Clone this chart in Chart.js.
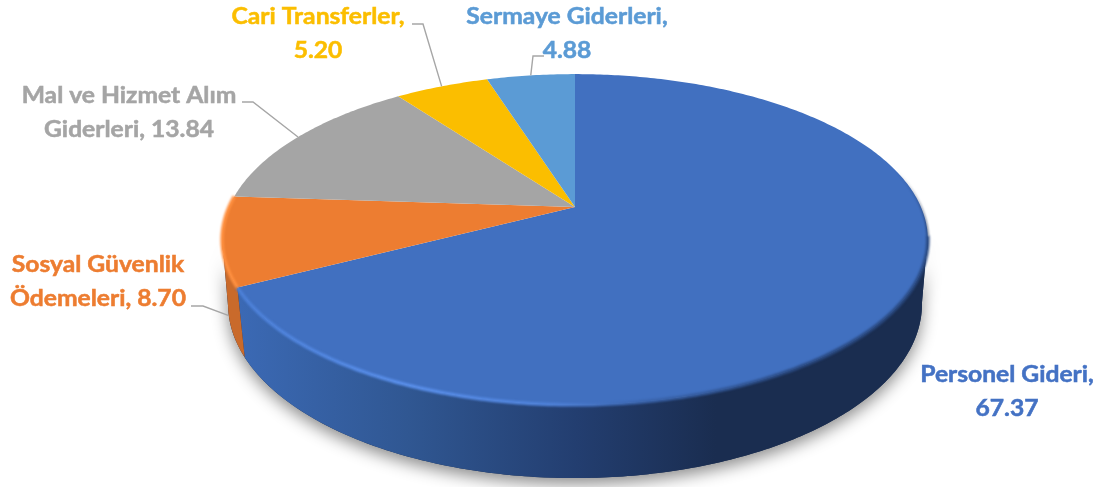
<!DOCTYPE html>
<html>
<head>
<meta charset="utf-8">
<style>
  html, body { margin: 0; padding: 0; background: #fff; }
  canvas { display: block; }
</style>
<script src="https://cdn.jsdelivr.net/npm/chart.js@4"></script>
</head>
<body>
<canvas id="pie" width="1102" height="487"></canvas>
<script>
const categories = ['Personel Gideri', 'Sosyal Güvenlik Ödemeleri', 'Mal ve Hizmet Alım Giderleri', 'Cari Transferler', 'Sermaye Giderleri'];
const values = [67.37, 8.70, 13.84, 5.20, 4.88];
const colors = ['#4170C0', '#ED7D31', '#A5A5A5', '#FBBE00', '#5B9BD5'];

// words on the first line of each label, and where the label sits
const firstLineWords = [2, 2, 4, 2, 2];
const labelCenterX = [1007, 98, 129, 318, 567];
const labelBaseY = [382, 272, 103, 24, 24];
const lineGap = 34;
// the reference text is stretched sideways
const textStretch = 1.12;
// leader start and elbow, the last point comes from the slice itself
const leaders = [null, [[191, 306], [203, 306]], [[242, 102], [253, 102]], [[412, 24], [423, 24]], [[544, 56], [533, 56]]];
const leaderDrop = [0, 7, 0, 0, 0];

// perspective of the disc, top and bottom face
const topFace = { p: 0.1964, a: 346, b: 159, cx: 575, y0: 207 };
const bottomFace = { p: 0.18, a: 341.3, b: 168.4, cx: 575, y0: 272.7 };
const wallFrom = 100 * Math.PI / 180;
const wallTo = 259 * Math.PI / 180;

function project(face, th) {
  const u = Math.sin(th), v = -Math.cos(th), w = 1 - face.p * v;
  return [face.cx + face.a * u / w, face.y0 + face.b * v / w];
}

function traceRim(ctx, face, t1, t2, move) {
  const n = Math.max(2, Math.ceil(Math.abs(t2 - t1) * 80));
  for (let i = 0; i <= n; i++) {
    const pt = project(face, t1 + (t2 - t1) * i / n);
    if (i === 0 && move) ctx.moveTo(pt[0], pt[1]);
    else ctx.lineTo(pt[0], pt[1]);
  }
}

function wallPath(ctx, t1, t2) {
  ctx.beginPath();
  traceRim(ctx, topFace, t1, t2, true);
  traceRim(ctx, bottomFace, t2, t1, false);
  ctx.closePath();
}

const tiltedPie = {
  id: 'tiltedPie',
  beforeDatasetsDraw(chart) {
    const ctx = chart.ctx;
    const arcs = chart.getDatasetMeta(0).data;
    // chart.js angles start at 3 o'clock, here th = 0 is 12 o'clock
    const span = arcs.map((a) => [a.startAngle + Math.PI / 2, a.endAngle + Math.PI / 2]);

    // soft shadow under the disc
    ctx.save();
    ctx.shadowColor = 'rgba(0,0,0,0.45)';
    ctx.shadowBlur = 16;
    ctx.shadowOffsetY = 6;
    ctx.fillStyle = '#1A2D50';
    wallPath(ctx, wallFrom, wallTo);
    ctx.fill();
    ctx.restore();

    // side walls
    const side = ctx.createLinearGradient(240, 0, 800, 0);
    side.addColorStop(0, '#3B69B4');
    side.addColorStop(0.3, '#305792');
    side.addColorStop(0.6, '#233E70');
    side.addColorStop(0.85, '#1A2D50');
    side.addColorStop(1, '#1A2D50');
    ctx.fillStyle = side;
    wallPath(ctx, wallFrom, span[0][1]);
    ctx.fill();
    ctx.fillStyle = '#C96A2B';
    wallPath(ctx, span[0][1], wallTo);
    ctx.fill();

    // top faces
    arcs.forEach((a, i) => {
      ctx.beginPath();
      ctx.moveTo(topFace.cx, topFace.y0);
      traceRim(ctx, topFace, span[i][0], span[i][1], false);
      ctx.closePath();
      ctx.fillStyle = colors[i];
      ctx.fill();
    });

    // bevel along the front rim
    ctx.save();
    ctx.filter = 'blur(1.3px)';
    ctx.lineWidth = 3.5;
    const bevel = ctx.createLinearGradient(240, 0, 800, 0);
    bevel.addColorStop(0, '#4C80D8');
    bevel.addColorStop(0.3, '#5A90EC');
    bevel.addColorStop(0.55, '#4F82DA');
    bevel.addColorStop(0.72, '#3A64AC');
    bevel.addColorStop(1, '#2A4A82');
    ctx.strokeStyle = bevel;
    ctx.beginPath();
    traceRim(ctx, topFace, wallFrom, span[0][1], true);
    ctx.stroke();
    ctx.strokeStyle = '#FF9040';
    ctx.beginPath();
    traceRim(ctx, topFace, span[0][1], span[1][1], true);
    ctx.stroke();
    // the dark edge creeping up the right side
    const edge = ctx.createLinearGradient(0, 170, 0, 245);
    edge.addColorStop(0, 'rgba(26,45,80,0)');
    edge.addColorStop(1, 'rgba(26,45,80,0.85)');
    ctx.strokeStyle = edge;
    ctx.lineWidth = 2;
    ctx.beginPath();
    traceRim(ctx, topFace, 60 * Math.PI / 180, wallFrom, true);
    ctx.stroke();
    ctx.restore();

    // leader lines
    ctx.save();
    ctx.strokeStyle = '#A6A6A6';
    ctx.lineWidth = 1.4;
    arcs.forEach((a, i) => {
      if (!leaders[i]) return;
      const mid = (span[i][0] + span[i][1]) / 2;
      const end = project(i === 1 ? bottomFace : topFace, mid);
      ctx.beginPath();
      ctx.moveTo(leaders[i][0][0], leaders[i][0][1]);
      ctx.lineTo(leaders[i][1][0], leaders[i][1][1]);
      ctx.lineTo(end[0], end[1] + leaderDrop[i]);
      ctx.stroke();
    });
    ctx.restore();

    // labels, with a thin stroke since Calibri bold at this size reads heavier
    categories.forEach((name, i) => {
      const words = (name + ', ' + values[i].toFixed(2)).split(' ');
      const line1 = words.slice(0, firstLineWords[i]).join(' ');
      const line2 = words.slice(firstLineWords[i]).join(' ');
      ctx.save();
      ctx.font = 'bold 22px Lato';
      ctx.textAlign = 'center';
      ctx.textBaseline = 'alphabetic';
      ctx.fillStyle = i === 0 ? '#4472C4' : colors[i];
      ctx.strokeStyle = ctx.fillStyle;
      ctx.lineWidth = 0.5;
      ctx.translate(labelCenterX[i], labelBaseY[i]);
      ctx.scale(textStretch, 1);
      ctx.fillText(line1, 0, 0);
      ctx.strokeText(line1, 0, 0);
      ctx.fillText(line2, 0, lineGap);
      ctx.strokeText(line2, 0, lineGap);
      ctx.restore();
    });

    return false;
  }
};

new Chart(document.getElementById('pie'), {
  type: 'pie',
  data: {
    labels: categories,
    datasets: [{
      data: values,
      backgroundColor: colors,
      borderWidth: 0
    }]
  },
  options: {
    responsive: false,
    animation: false,
    plugins: {
      legend: { display: false },
      tooltip: { enabled: false }
    }
  },
  plugins: [tiltedPie]
});
</script>
</body>
</html>
